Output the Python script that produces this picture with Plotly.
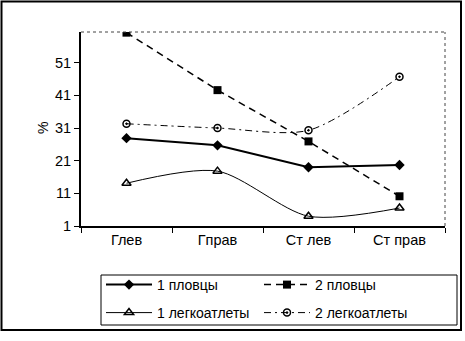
import plotly.graph_objects as go

categories = ["Глев", "Гправ", "Ст лев", "Ст прав"]
swim1 = [27.9, 25.7, 19.0, 19.7]
swim2 = [60.2, 42.6, 26.9, 10.1]
track1 = [14.1, 17.8, 4.0, 6.5]
track2 = [32.3, 31.0, 30.3, 46.7]
y_ticks = [1, 11, 21, 31, 41, 51]

FONT = "Liberation Sans, Arial, sans-serif"

fig = go.Figure()
fig.add_trace(go.Scatter(x=categories, y=swim1, name="1 пловцы", mode="lines+markers",
                         line=dict(color="black", width=2),
                         marker=dict(symbol="diamond", size=8, color="black"),
                         legend="legend"))
fig.add_trace(go.Scatter(x=categories, y=swim2, name="2 пловцы", mode="lines+markers",
                         line=dict(color="black", width=1.5, dash="7px,5px"),
                         marker=dict(symbol="square", size=8, color="black"),
                         legend="legend"))
fig.add_trace(go.Scatter(x=categories, y=track1, name="1 легкоатлеты", mode="lines+markers",
                         line=dict(color="black", width=1, shape="spline", smoothing=0.8),
                         marker=dict(symbol="triangle-up-open", size=8, color="black",
                                     line=dict(width=1.5)),
                         legend="legend2"))
fig.add_trace(go.Scatter(x=categories, y=track2, name="2 легкоатлеты", mode="lines+markers",
                         line=dict(color="black", width=1, dash="7px,4px,2px,4px",
                                   shape="spline", smoothing=0.8),
                         marker=dict(symbol="circle-open-dot", size=7, color="black",
                                     line=dict(width=1.5)),
                         legend="legend2"))

W, H = 465, 341
L, R, T, B = 81, 20, 32, 115
pw, ph = W - L - R, H - T - B

def px(x):
    return (x - L) / pw

def py(y):
    return (H - B - y) / ph

fig.update_layout(
    width=W, height=H,
    margin=dict(l=L, r=R, t=T, b=B, pad=0),
    paper_bgcolor="white", plot_bgcolor="white",
    font=dict(family=FONT, size=14, color="black"),
    xaxis=dict(type="category", range=[-0.5, 3.5], showline=True, linecolor="black",
               linewidth=2, ticks="outside", tickson="boundaries", ticklen=5,
               tickcolor="black", showgrid=False, zeroline=False,
               tickfont=dict(size=14.5)),
    yaxis=dict(range=[1, 60.4], tickvals=y_ticks, showline=True, linecolor="black",
               linewidth=2, ticks="outside", ticklen=5, tickcolor="black",
               showgrid=False, zeroline=False, tickfont=dict(size=14.5)),
    legend=dict(orientation="h", x=px(101), xanchor="left", y=py(285), yanchor="middle",
                entrywidth=97, entrywidthmode="pixels", itemwidth=46, font=dict(size=14),
                bgcolor="rgba(0,0,0,0)", borderwidth=0),
    legend2=dict(orientation="h", x=px(101), xanchor="left", y=py(313), yanchor="middle",
                 entrywidth=97, entrywidthmode="pixels", itemwidth=46, font=dict(size=14),
                 bgcolor="rgba(0,0,0,0)", borderwidth=0),
    showlegend=True,
)

shapes = [
    dict(type="line", xref="paper", yref="paper", x0=0, x1=1, y0=1, y1=1,
         line=dict(color="#444", width=1, dash="dot")),
    dict(type="line", xref="paper", yref="paper", x0=1, x1=1, y0=0, y1=1,
         line=dict(color="#444", width=1, dash="dot")),
    dict(type="rect", xref="paper", yref="paper", x0=px(101), x1=px(457), y0=py(325), y1=py(275),
         line=dict(color="black", width=1)),
    dict(type="rect", xref="paper", yref="paper", x0=px(1.5), x1=px(461), y0=py(330), y1=py(1.5),
         line=dict(color="black", width=2)),
]
fig.update_layout(shapes=shapes)

fig.add_annotation(text="%", xref="paper", yref="paper", x=px(33), y=py(128),
                   showarrow=False, textangle=-90, font=dict(size=14))

fig.write_html("out.html", config={"displayModeBar": False},
               post_script="document.body.style.margin='0';")
